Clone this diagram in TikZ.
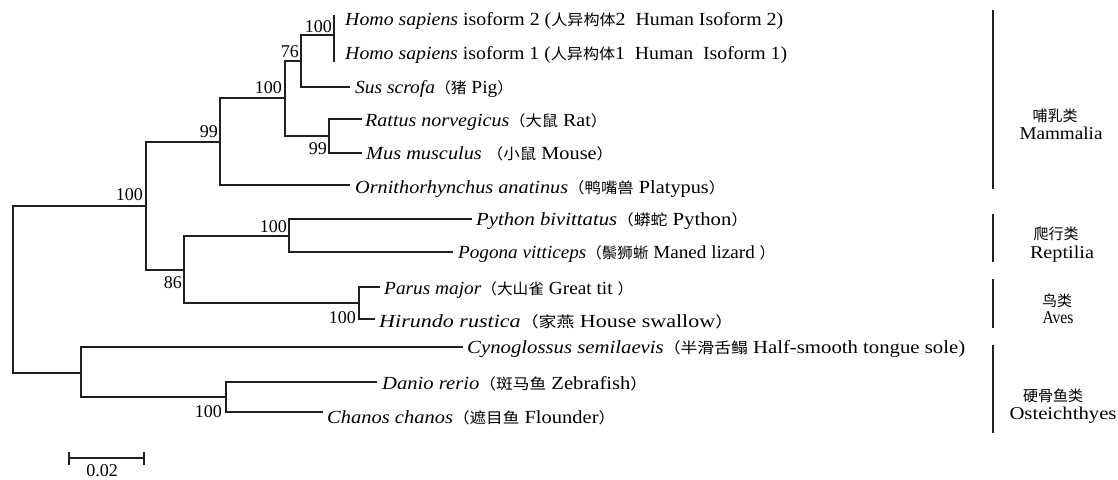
\documentclass[tikz,border=0pt]{standalone}
\usepackage{fontspec}
\usepackage{graphicx}
\setmainfont{Liberation Serif}
\newfontfamily\cjkfont{Noto Sans CJK SC}
\newcommand{\zh}[1]{{\cjkfont\fontsize{15}{17}\selectfont #1}}
\newcommand{\fitto}[2]{\resizebox{#1pt}{\height}{#2}}
\begin{document}
\begin{tikzpicture}[x=1pt,y=-1pt,
  br/.style={line width=1.5pt, draw=black!88},
  lab/.style={anchor=base west, inner sep=0pt, font=\fontsize{18.5}{21}\selectfont},
  bs/.style={anchor=base east, inner sep=0pt, font=\fontsize{18}{20}\selectfont},
  grp/.style={anchor=base, inner sep=0pt, font=\fontsize{18}{20}\selectfont}]
\useasboundingbox (0,0) rectangle (1118,479);
% internal nodes
\coordinate (root) at (13,289);
\coordinate (nAmn) at (146,206);
\coordinate (nMam) at (220,142);
\coordinate (nEuth) at (285,98);
\coordinate (n76) at (301,61);
\coordinate (nHomo) at (334,35);
\coordinate (nMur) at (329,136);
\coordinate (nSau) at (184,270);
\coordinate (nRep) at (289,236);
\coordinate (nAve) at (359,303);
\coordinate (nFish) at (81,373);
\coordinate (nCyp) at (226,397);
% tips
\coordinate (tH2) at (334,15);
\coordinate (tH1) at (334,62);
\coordinate (tSus) at (350,87);
\coordinate (tRat) at (362,119);
\coordinate (tMus) at (362,153);
\coordinate (tPla) at (350,185);
\coordinate (tPyt) at (472,219);
\coordinate (tPog) at (453,252);
\coordinate (tPar) at (380,287);
\coordinate (tHir) at (375,319);
\coordinate (tCyn) at (463,347);
\coordinate (tDan) at (377,382);
\coordinate (tCha) at (323,412);
% branches
\draw[br] (root) |- (nAmn);
\draw[br] (root) |- (nFish);
\draw[br] (nAmn) |- (nMam);
\draw[br] (nAmn) |- (nSau);
\draw[br] (nMam) |- (nEuth);
\draw[br] (nMam) |- (tPla);
\draw[br] (nEuth) |- (n76);
\draw[br] (nEuth) |- (nMur);
\draw[br] (n76) |- (nHomo);
\draw[br] (n76) |- (tSus);
\draw[br] (nHomo) |- (tH2);
\draw[br] (nHomo) |- (tH1);
\draw[br] (nMur) |- (tRat);
\draw[br] (nMur) |- (tMus);
\draw[br] (nSau) |- (nRep);
\draw[br] (nSau) |- (nAve);
\draw[br] (nRep) |- (tPyt);
\draw[br] (nRep) |- (tPog);
\draw[br] (nAve) |- (tPar);
\draw[br] (nAve) |- (tHir);
\draw[br] (nFish) |- (tCyn);
\draw[br] (nFish) |- (nCyp);
\draw[br] (nCyp) |- (tDan);
\draw[br] (nCyp) |- (tCha);
% bootstrap values
\node[bs] (bHomo) at (332,32) {100};
\node[bs] (b76) at (299,57) {76};
\node[bs] (bEuth) at (282,93) {100};
\node[bs] (bMam) at (218,137) {99};
\node[bs] (bAmn) at (143,200) {100};
\node[bs] (bMur) at (327,154) {99};
\node[bs] (bRep) at (287,232) {100};
\node[bs] (bSau) at (182,288) {86};
\node[bs] (bAve) at (356,323) {100};
\node[bs] (bCyp) at (222,417) {100};
% tip labels
\node[lab] (lH2) at (345,25) {\fitto{438}{\textit{Homo sapiens} isoform 2 (\zh{人异构体}2\ \ Human Isoform 2)}};
\node[lab] (lH1) at (345,59) {\fitto{442}{\textit{Homo sapiens} isoform 1 (\zh{人异构体}1\ \ Human\ \ Isoform 1)}};
\node[lab] (lSus) at (355,93) {\fitto{158}{\textit{Sus scrofa}\zh{（猪} Pig\zh{）}}};
\node[lab] (lRat) at (365,126) {\fitto{242}{\textit{Rattus norvegicus}\zh{（大鼠} Rat\zh{）}}};
\node[lab] (lMus) at (366,159) {\fitto{247}{\textit{Mus musculus}\ \zh{（小鼠} Mouse\zh{）}}};
\node[lab] (lPla) at (355,193) {\fitto{370}{\textit{Ornithorhynchus anatinus}\zh{（鸭嘴兽} Platypus\zh{）}}};
\node[lab] (lPyt) at (476,225) {\fitto{272}{\textit{Python bivittatus}\zh{（蟒蛇} Python\zh{）}}};
\node[lab] (lPog) at (458,258) {\fitto{317}{\textit{Pogona vitticeps}\zh{（鬃狮蜥} Maned lizard \zh{）}}};
\node[lab] (lPar) at (384,294) {\fitto{249}{\textit{Parus major}\zh{（大山雀} Great tit \zh{）}}};
\node[lab] (lHir) at (379,327) {\fitto{354}{\textit{Hirundo rustica}\zh{（家燕} House swallow\zh{）}}};
\node[lab] (lCyn) at (467,353) {\fitto{498}{\textit{Cynoglossus semilaevis}\zh{（半滑舌鳎} Half-smooth tongue sole)}};
\node[lab] (lDan) at (382,389) {\fitto{265}{\textit{Danio rerio}\zh{（斑马鱼} Zebrafish\zh{）}}};
\node[lab] (lCha) at (327,423) {\fitto{288}{\textit{Chanos chanos}\zh{（遮目鱼} Flounder\zh{）}}};
% group brackets
\coordinate (gMamT) at (993,10);  \coordinate (gMamB) at (993,189);
\coordinate (gRepT) at (993,214); \coordinate (gRepB) at (993,262);
\coordinate (gAveT) at (993,279); \coordinate (gAveB) at (993,328);
\coordinate (gOstT) at (993,345); \coordinate (gOstB) at (993,433);
\draw[br] (gMamT) -- (gMamB);
\draw[br] (gRepT) -- (gRepB);
\draw[br] (gAveT) -- (gAveB);
\draw[br] (gOstT) -- (gOstB);
\node[grp] (zMam) at (1055,121) {\zh{哺乳类}};
\node[grp] (eMam) at (1061,139) {\fitto{83}{Mammalia}};
\node[grp] (zRep) at (1056,239) {\zh{爬行类}};
\node[grp] (eRep) at (1062,258) {\fitto{64}{Reptilia}};
\node[grp] (zAve) at (1057,306) {\zh{鸟类}};
\node[grp] (eAve) at (1058,323) {\fitto{31}{Aves}};
\node[grp] (zOst) at (1053,401) {\zh{硬骨鱼类}};
\node[grp] (eOst) at (1063,419) {\fitto{107}{Osteichthyes}};
% scale bar
\coordinate (sbL) at (69,458);
\coordinate (sbR) at (144,458);
\draw[br] (sbL) -- (sbR);
\draw[br] ([yshift=6.5pt]sbL) -- ([yshift=-6.5pt]sbL);
\draw[br] ([yshift=6.5pt]sbR) -- ([yshift=-6.5pt]sbR);
\node[anchor=base, inner sep=0pt, font=\fontsize{18}{20}\selectfont] (sbT) at (102,476) {0.02};
\end{tikzpicture}
\end{document}
